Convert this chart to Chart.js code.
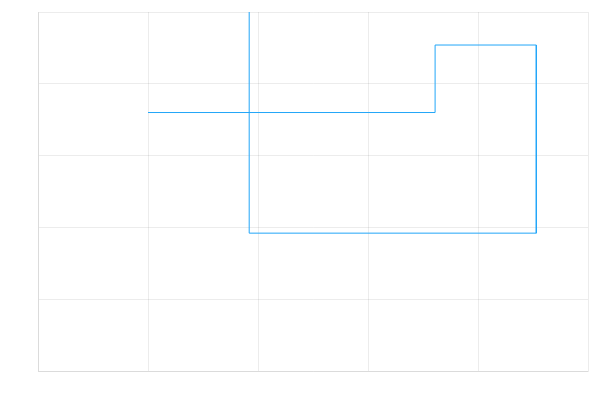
<!DOCTYPE html>
<html>
<head>
<meta charset="utf-8">
<script src="https://cdn.jsdelivr.net/npm/chart.js@4/dist/chart.umd.min.js"></script>
<style>
  html, body { margin: 0; padding: 0; background: #fff; }
  #wrap { width: 600px; height: 400px; }
</style>
</head>
<body>
<div id="wrap"><canvas id="chart" width="600" height="400"></canvas></div>
<script>
// path vertices, in data units (last point runs off the top and is clipped)
const pathX = [1.0, 3.61, 3.61, 4.53, 4.53, 1.92, 1.92];
const pathY = [3.6, 3.6, 4.54, 4.54, 1.92, 1.92, 5.6];

// axis ranges
const xRange = [0, 5];
const yRange = [0, 5];

const points = pathX.map((x, i) => ({ x: x, y: pathY[i] }));

function gridAxis(range) {
    return {
        type: 'linear',
        min: range[0],
        max: range[1],
        ticks: { display: false, stepSize: 1 },
        grid: { color: 'rgba(0,0,0,0.075)', drawTicks: false, lineWidth: 1 },
        border: { display: true, color: 'rgba(0,0,0,0.075)' }
    };
}

new Chart(document.getElementById('chart'), {
    type: 'scatter',
    data: {
        datasets: [{
            data: points,
            showLine: true,
            borderColor: '#22a6f8',
            borderWidth: 1,
            pointRadius: 0,
            tension: 0,
            fill: false,
            clip: 0
        }]
    },
    options: {
        responsive: false,
        animation: false,
        layout: { padding: { left: 38, right: 12, top: 12, bottom: 29 } },
        plugins: { legend: { display: false }, tooltip: { enabled: false } },
        scales: {
            x: gridAxis(xRange),
            y: gridAxis(yRange)
        }
    }
});
</script>
</body>
</html>
